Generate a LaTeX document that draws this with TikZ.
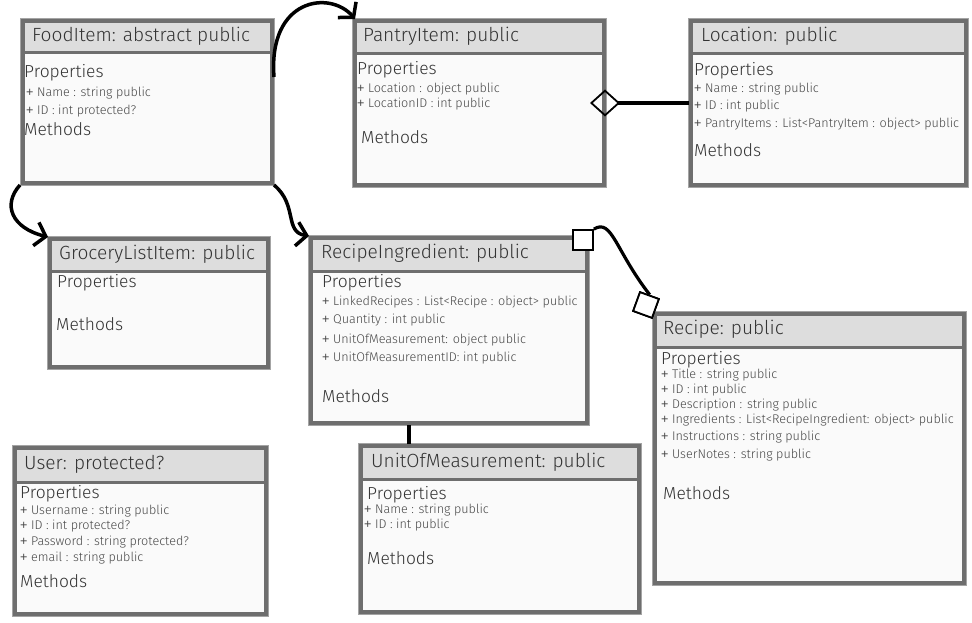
\documentclass[tikz,border=0pt]{standalone}
\usepackage{fontspec}
\setmainfont{Fira Sans}[UprightFont=* Light]
\newfontfamily\plusfont{Liberation Sans}
\newcommand{\plussign}{{\plusfont +}}
\usetikzlibrary{arrows.meta}

\definecolor{boxgray}{HTML}{6E6E6E}
\definecolor{rimgray}{HTML}{A4A4A4}
\definecolor{headgray}{HTML}{DDDDDD}
\definecolor{bodywhite}{HTML}{FAFAFA}
\definecolor{titleink}{HTML}{333333}
\definecolor{propink}{HTML}{484848}

\tikzset{
	classbox/.style={draw=boxgray, line width=4pt, fill=bodywhite, anchor=north west, inner sep=0pt,
		preaction={draw=rimgray, line width=6pt},
		path picture={
			\fill[headgray] (path picture bounding box.north west) rectangle ([yshift=-#1]path picture bounding box.north east);
			\draw[boxgray, line width=3pt] ([yshift=-#1]path picture bounding box.north west) -- ([yshift=-#1]path picture bounding box.north east);
		}},
	classtitle/.style={anchor=base west, inner sep=0pt, text=titleink, font=\fontsize{19.1}{23}\selectfont},
	section/.style={anchor=base west, inner sep=0pt, text=titleink, font=\fontsize{17.4}{20}\selectfont},
	prop/.style={anchor=base west, inner sep=0pt, text=propink, font=\fontsize{12.6}{15}\selectfont},
	link/.style={draw=black, line width=3.5pt},
	inherit/.style={link, -{Straight Barb[length=10pt, width=24pt]}},
	sqmark/.style={draw=black, line width=1.8pt, fill=white, minimum size=20pt, inner sep=0pt}
}

\begin{document}
\begin{tikzpicture}[x=1pt, y=-1pt]
	\useasboundingbox (0,0) rectangle (972,623);

	% FoodItem
	\node[classbox=32pt, minimum width=249pt, minimum height=162pt] (food) at (21,19) {};
	\node[classtitle] (food-title) at (32,42) {FoodItem: abstract public};
	\node[section] (food-props) at (24,78) {Properties};
	\foreach \y/\t in {97/{Name : string public}, 115/{ID : int protected?}}
		\node[prop] (food-\y) at (26,\y) {\plussign{} \t};
	\node[section] (food-methods) at (24,136) {Methods};

	% PantryItem
	\node[classbox=33pt, minimum width=249pt, minimum height=164pt] (pantry) at (353,19) {};
	\node[classtitle] (pantry-title) at (363,42) {PantryItem: public};
	\node[section] (pantry-props) at (357,75) {Properties};
	\foreach \y/\t in {93/{Location : object public}, 108/{LocationID : int public}}
		\node[prop] (pantry-\y) at (357,\y) {\plussign{} \t};
	\node[section] (pantry-methods) at (361,143) {Methods};

	% Location
	\node[classbox=33pt, minimum width=275pt, minimum height=164pt] (location) at (689,19) {};
	\node[classtitle] (location-title) at (701,42) {Location: public};
	\node[section] (location-props) at (694,76) {Properties};
	\foreach \y/\t in {93/{Name : string public}, 110/{ID : int public}, 128/{PantryItems : List<PantryItem : object> public}}
		\node[prop] (location-\y) at (694,\y) {\plussign{} \t};
	\node[section] (location-methods) at (694,157) {Methods};

	% GroceryListItem
	\node[classbox=32pt, minimum width=218pt, minimum height=128pt] (grocery) at (48,237) {};
	\node[classtitle] (grocery-title) at (59,259) {GroceryListItem: public};
	\node[section] (grocery-props) at (57,287) {Properties};
	\node[section] (grocery-methods) at (56,330) {Methods};

	% RecipeIngredient
	\node[classbox=33pt, minimum width=276pt, minimum height=185pt] (ingredient) at (309,236) {};
	\node[classtitle] (ingredient-title) at (321,258) {RecipeIngredient: public};
	\node[section] (ingredient-props) at (322,287) {Properties};
	\foreach \y/\t in {305/{LinkedRecipes : List<Recipe : object> public}, 323/{Quantity : int public},
		343/{UnitOfMeasurement: object public}, 361/{UnitOfMeasurementID: int public}}
		\node[prop] (ingredient-\y) at (322,\y) {\plussign{} \t};
	\node[section] (ingredient-methods) at (322,402) {Methods};

	% Recipe
	\node[classbox=33pt, minimum width=309pt, minimum height=269pt] (recipe) at (653,312) {};
	\node[classtitle] (recipe-title) at (663,334) {Recipe: public};
	\node[section] (recipe-props) at (661,364) {Properties};
	\foreach \y/\t in {378/{Title : string public}, 393/{ID : int public}, 408/{Description : string public},
		423/{Ingredients : List<RecipeIngredient: object> public}, 440/{Instructions : string public},
		458/{UserNotes : string public}}
		\node[prop] (recipe-\y) at (661,\y) {\plussign{} \t};
	\node[section] (recipe-methods) at (663,499) {Methods};

	% User
	\node[classbox=34pt, minimum width=251pt, minimum height=166pt] (user) at (13,446) {};
	\node[classtitle] (user-title) at (24,469) {User: protected?};
	\node[section] (user-props) at (20,498) {Properties};
	\foreach \y/\t in {514/{Username : string public}, 529/{ID : int protected?},
		545/{Password : string protected?}, 561/{email : string public}}
		\node[prop] (user-\y) at (20,\y) {\plussign{} \t};
	\node[section] (user-methods) at (20,587) {Methods};

	% UnitOfMeasurement
	\node[classbox=33pt, minimum width=278pt, minimum height=166pt] (unit) at (359,444) {};
	\node[classtitle] (unit-title) at (371,467) {UnitOfMeasurement: public};
	\node[section] (unit-props) at (367,499) {Properties};
	\foreach \y/\t in {513/{Name : string public}, 528/{ID : int public}}
		\node[prop] (unit-\y) at (364,\y) {\plussign{} \t};
	\node[section] (unit-methods) at (367,564) {Methods};

	% inheritance arrows
	\draw[inherit] ([yshift=-58pt]food.north east) .. controls (268,-2) and (330,-10) .. ([xshift=2pt]pantry.north west);
	\draw[inherit] ([xshift=-1pt]food.south west) .. controls (2,205) and (12,228) .. (grocery.north west);
	\draw[inherit] (food.south east) .. controls (298,205) and (284,232) .. (ingredient.north west);

	% aggregation
	\draw[link, {Diamond[open, length=30pt, width=27pt, line width=1.8pt]}-] ([xshift=-16pt]pantry.east) -- (location.west);

	% association RecipeIngredient -- Recipe
	\node[sqmark] (ingredient-end) at (583,240) {};
	\node[sqmark, rotate=-20] (recipe-end) at (646,305) {};
	\draw[link, line width=3.2pt] (ingredient-end.north east) .. controls (612,218) and (615,250) .. (recipe-end.north);
	\node[sqmark] at (ingredient-end) {};
	\node[sqmark, rotate=-20] at (recipe-end) {};

	% RecipeIngredient -- UnitOfMeasurement
	\draw[link] ([xshift=-40pt]ingredient.south) -- ([xshift=-40pt]ingredient.south |- unit.north);
\end{tikzpicture}
\end{document}
